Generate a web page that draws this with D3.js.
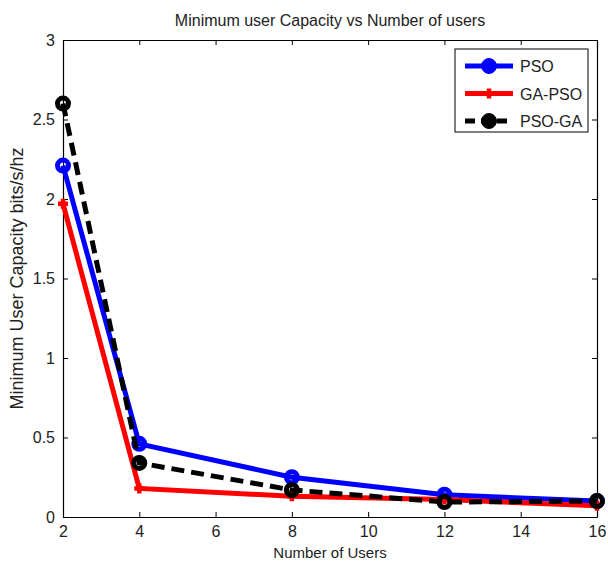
<!DOCTYPE html>
<html>
<head>
<meta charset="utf-8">
<script src="https://cdn.jsdelivr.net/npm/d3@7"></script>
<style>
  body { margin: 0; background: #fff; }
  svg text { font-family: "Liberation Sans", Arial, sans-serif; fill: #222; }
</style>
</head>
<body>
<div id="chart"></div>
<script>
// data
const users = [2, 4, 8, 12, 16];
const pso = [2.21, 0.46, 0.25, 0.14, 0.10];
const gaPso = [1.97, 0.18, 0.13, 0.11, 0.07];
const psoGa = [2.60, 0.34, 0.17, 0.094, 0.10];
const xTicks = [2, 4, 6, 8, 10, 12, 14, 16];
const yTicks = [0, 0.5, 1, 1.5, 2, 2.5, 3];

const width = 608, height = 565;
const margin = { top: 40, right: 11, bottom: 48, left: 63 };

const svg = d3.select('#chart').append('svg')
    .attr('width', width)
    .attr('height', height);

const x = d3.scaleLinear().domain([2, 16]).range([margin.left, width - margin.right]);
const y = d3.scaleLinear().domain([0, 3]).range([height - margin.bottom, margin.top]);

// axes, ticks inward like matlab
const tk = 5;
svg.append('g')
    .attr('transform', `translate(0,${y(0)})`)
    .call(d3.axisBottom(x).tickValues(xTicks).tickSizeInner(-tk).tickSizeOuter(0).tickPadding(9))
    .call(g => g.selectAll('text').attr('font-size', 16));
svg.append('g')
    .attr('transform', `translate(0,${y(3)})`)
    .call(d3.axisTop(x).tickValues(xTicks).tickSizeInner(-tk).tickSizeOuter(0).tickFormat(''));
svg.append('g')
    .attr('transform', `translate(${x(2)},0)`)
    .call(d3.axisLeft(y).tickValues(yTicks).tickFormat(d3.format('~g')).tickSizeInner(-tk).tickSizeOuter(0).tickPadding(8))
    .call(g => g.selectAll('text').attr('font-size', 16));
svg.append('g')
    .attr('transform', `translate(${x(16)},0)`)
    .call(d3.axisRight(y).tickValues(yTicks).tickSizeInner(-tk).tickSizeOuter(0).tickFormat(''));
svg.selectAll('.domain').attr('stroke', '#000').attr('stroke-width', 1.2);
svg.selectAll('.tick line').attr('stroke', '#000');

const series = [
    { name: 'PSO', vals: pso, color: '#0000ff', dash: null, marker: 'circle' },
    { name: 'GA-PSO', vals: gaPso, color: '#ff0000', dash: null, marker: 'plus' },
    { name: 'PSO-GA', vals: psoGa, color: '#000000', dash: '13,7', marker: 'circle' }
];

const line = d3.line().x(d => x(d[0])).y(d => y(d[1]));

function drawMarker(g, kind, color, cx, cy, filled) {
    if (kind === 'circle') {
        g.append('circle')
            .attr('cx', cx).attr('cy', cy)
            .attr('r', filled ? 7.5 : 5.5)
            .attr('fill', filled ? color : 'none')
            .attr('stroke', color)
            .attr('stroke-width', filled ? 1 : 5);
    } else {
        g.append('path')
            .attr('d', `M${cx - 5},${cy}H${cx + 5}M${cx},${cy - 5}V${cy + 5}`)
            .attr('stroke', color)
            .attr('stroke-width', 4.5);
    }
}

series.forEach(s => {
    const pts = users.map((u, i) => [u, s.vals[i]]);
    const g = svg.append('g');
    g.append('path')
        .datum(pts)
        .attr('d', line)
        .attr('fill', 'none')
        .attr('stroke', s.color)
        .attr('stroke-width', 5)
        .attr('stroke-dasharray', s.dash);
    pts.forEach(p => drawMarker(g, s.marker, s.color, x(p[0]), y(p[1]), false));
});

// legend
const lg = svg.append('g').attr('transform', 'translate(455,49)');
lg.append('rect')
    .attr('width', 133).attr('height', 83)
    .attr('fill', '#fff').attr('stroke', '#000').attr('stroke-width', 1);
series.forEach((s, i) => {
    const ly = 17 + i * 27.5;
    lg.append('line')
        .attr('x1', 10).attr('x2', 58).attr('y1', ly).attr('y2', ly)
        .attr('stroke', s.color).attr('stroke-width', 5)
        .attr('stroke-dasharray', s.dash ? '10,6' : null);
    drawMarker(lg, s.marker, s.color, 34, ly, true);
    lg.append('text')
        .attr('x', 65).attr('y', ly + 6)
        .attr('font-size', 16)
        .text(s.name);
});

// titles
svg.append('text')
    .attr('x', (x(2) + x(16)) / 2).attr('y', 26)
    .attr('text-anchor', 'middle').attr('font-size', 16)
    .text('Minimum user Capacity vs Number of users');
svg.append('text')
    .attr('x', (x(2) + x(16)) / 2).attr('y', 558)
    .attr('text-anchor', 'middle').attr('font-size', 15)
    .text('Number of Users');
svg.append('text')
    .attr('transform', `translate(23,${(y(0) + y(3)) / 2}) rotate(-90)`)
    .attr('text-anchor', 'middle').attr('font-size', 18)
    .text('Minimum User Capacity bits/s/hz');
</script>
</body>
</html>
